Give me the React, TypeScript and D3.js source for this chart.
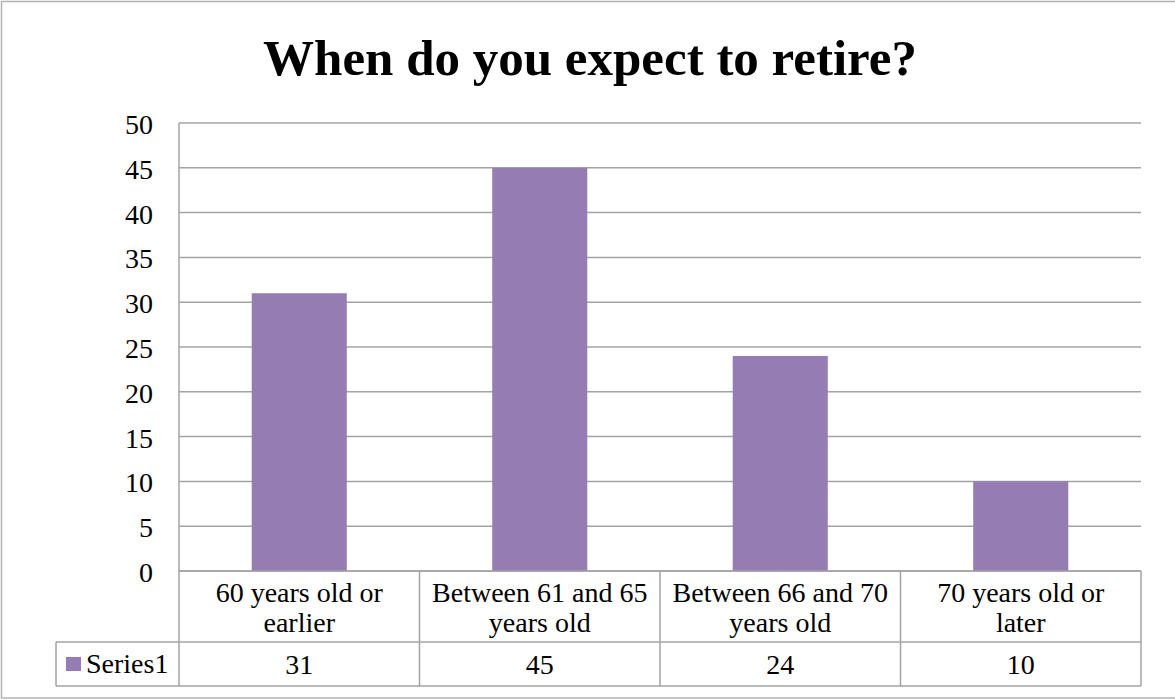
import React from "react";
import * as d3 from "d3";

const title = "When do you expect to retire?";
const categories: string[][] = [
  ["60 years old or", "earlier"],
  ["Between 61 and 65", "years old"],
  ["Between 66 and 70", "years old"],
  ["70 years old or", "later"],
];
const seriesName = "Series1";
const values = [31, 45, 24, 10];
const yTicks = [0, 5, 10, 15, 20, 25, 30, 35, 40, 45, 50];

const W = 1175;
const H = 700;
const plotLeft = 179;
const plotRight = 1141;
const plotTop = 123;
const plotBottom = 571;
const catRowBottom = 642;
const tableBottom = 686;
const legendLeft = 56;
const barColor = "#957DB3";
const lineColor = "#a3a3a3";
const font = "'Liberation Serif', 'Times New Roman', serif";

export default function App() {
  const keys = categories.map((_, i) => String(i));
  const x = d3.scaleBand<string>().domain(keys).range([plotLeft, plotRight]).padding(0);
  const y = d3.scaleLinear().domain([0, 50]).range([plotBottom, plotTop]);
  const bw = x.bandwidth();
  const barW = bw / (1 + 1.53);

  return (
    <svg width={W} height={H} style={{ position: "absolute", left: 0, top: 0 }} fontFamily={font}>
      <rect x={0} y={0} width={W} height={H} fill="#fff" />
      <rect x={1.5} y={1.5} width={W + 10} height={696.5} fill="none" stroke="#b4b4b4" strokeWidth={1.5} />
      <text x={590} y={75} textAnchor="middle" fontSize={51} fontWeight="bold" fill="#000">
        {title}
      </text>
      {/* gridlines */}
      {yTicks.map((t) => (
        <line key={"g" + t} x1={plotLeft} x2={plotRight} y1={y(t)} y2={y(t)} stroke={lineColor} strokeWidth={1.5} />
      ))}
      {yTicks.map((t) => (
        <text key={"t" + t} x={153} y={y(t) + 11} textAnchor="end" fontSize={28} fill="#000">
          {t}
        </text>
      ))}
      {/* bars */}
      {values.map((v, i) => (
        <rect
          key={"b" + i}
          x={(x(keys[i]) as number) + (bw - barW) / 2}
          y={y(v)}
          width={barW}
          height={y(0) - y(v)}
          fill={barColor}
        />
      ))}
      {/* table lines */}
      <line x1={plotLeft} x2={plotLeft} y1={plotTop} y2={tableBottom} stroke={lineColor} strokeWidth={1.5} />
      <line x1={plotLeft} x2={plotRight} y1={plotBottom} y2={plotBottom} stroke={lineColor} strokeWidth={1.5} />
      <line x1={legendLeft} x2={plotRight} y1={catRowBottom} y2={catRowBottom} stroke={lineColor} strokeWidth={1.5} />
      <line x1={legendLeft} x2={plotRight} y1={tableBottom} y2={tableBottom} stroke={lineColor} strokeWidth={1.5} />
      <line x1={legendLeft} x2={legendLeft} y1={catRowBottom} y2={tableBottom} stroke={lineColor} strokeWidth={1.5} />
      {keys.map((k) => (
        <line
          key={"v" + k}
          x1={(x(k) as number) + bw}
          x2={(x(k) as number) + bw}
          y1={plotBottom}
          y2={tableBottom}
          stroke={lineColor}
          strokeWidth={1.5}
        />
      ))}
      {/* category labels */}
      {categories.map((lines, i) => (
        <text key={"c" + i} textAnchor="middle" fontSize={28} fill="#000">
          {lines.map((l, j) => (
            <tspan key={j} x={(x(keys[i]) as number) + bw / 2} y={602 + j * 30}>
              {l}
            </tspan>
          ))}
        </text>
      ))}
      {/* values */}
      {values.map((v, i) => (
        <text key={"n" + i} x={(x(keys[i]) as number) + bw / 2} y={674} textAnchor="middle" fontSize={28} fill="#000">
          {v}
        </text>
      ))}
      {/* legend */}
      <rect x={66} y={657} width={15} height={14} fill={barColor} />
      <text x={86} y={673} fontSize={28} fill="#000">
        {seriesName}
      </text>
    </svg>
  );
}
